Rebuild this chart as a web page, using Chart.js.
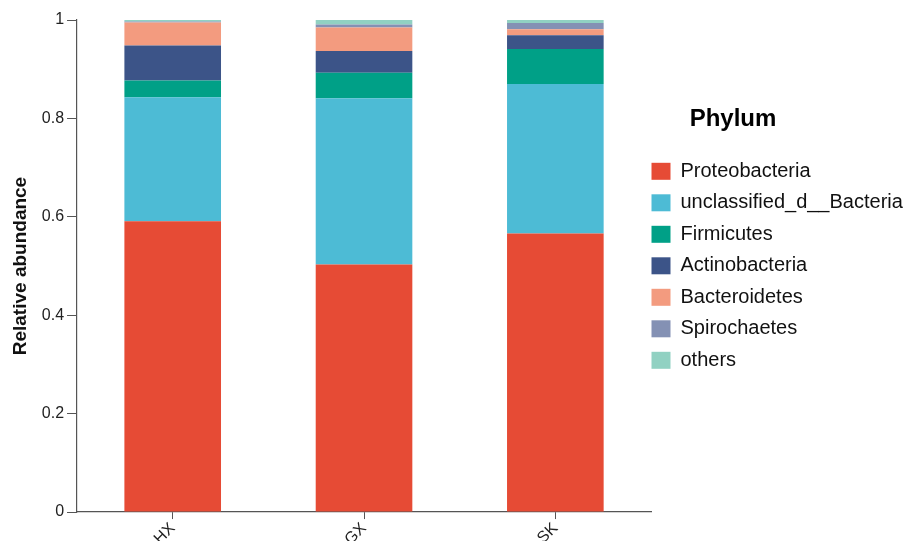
<!DOCTYPE html>
<html>
<head>
<meta charset="utf-8">
<script src="https://cdn.jsdelivr.net/npm/chart.js@4/dist/chart.umd.min.js"></script>
<style>
  html, body { margin: 0; padding: 0; background: #fff; }
  #wrap { width: 907px; height: 541px; position: relative; }
</style>
</head>
<body>
<div id="wrap"><canvas id="chart"></canvas></div>
<script>
'use strict';

// Samples and relative abundance per phylum (fractions, each sample sums to 1)
const samples = ['HX', 'GX', 'SK'];
const phyla = ['Proteobacteria', 'unclassified_d__Bacteria', 'Firmicutes',
    'Actinobacteria', 'Bacteroidetes', 'Spirochaetes', 'others'];
const proteobacteria = [0.591, 0.503, 0.566];
const unclassified = [0.252, 0.338, 0.304];
const firmicutes = [0.034, 0.052, 0.071];
const actinobacteria = [0.071, 0.044, 0.028];
const bacteroidetes = [0.047, 0.048, 0.012];
const spirochaetes = [0.002, 0.006, 0.013];
const others = [0.003, 0.009, 0.006];
const yTicks = [0, 0.2, 0.4, 0.6, 0.8, 1];

const colors = ['#E64B35', '#4DBBD5', '#00A087', '#3C5488', '#F39B7F', '#8491B4', '#91D1C2'];
const series = [proteobacteria, unclassified, firmicutes, actinobacteria,
    bacteroidetes, spirochaetes, others];

const FONT = "'Liberation Sans', Arial, sans-serif";
const AXIS_COLOR = '#555';

// The layout caps a side legend at a quarter of the width, which is too
// narrow for the long labels; widen it and pull it next to the plot.
const legendPlacement = {
    id: 'legendPlacement',
    afterLayout(chart) {
        const lg = chart.legend;
        if (!lg) return;
        lg.left = chart.chartArea.right - 11;
        lg.right = chart.width;
        lg.width = 186; // title is centred over this span
    }
};

const datasets = series.map((values, i) => ({
    label: phyla[i],
    data: values,
    backgroundColor: colors[i],
    borderWidth: 0,
    categoryPercentage: 1,
    barPercentage: 0.505,
}));

new Chart(document.getElementById('chart'), {
    type: 'bar',
    data: { labels: samples, datasets },
    plugins: [legendPlacement],
    options: {
        responsive: true,
        maintainAspectRatio: false,
        animation: false,
        layout: { padding: { top: 20, left: 9, right: 42, bottom: -8 } },
        plugins: {
            tooltip: { enabled: false },
            legend: {
                position: 'right',
                align: 'start',
                title: {
                    display: true,
                    text: 'Phylum',
                    color: '#000',
                    font: { family: FONT, size: 24, weight: 'bold' },
                    padding: { top: 87, bottom: 14 },
                },
                labels: {
                    boxWidth: 19,
                    boxHeight: 17,
                    padding: 11.5,
                    color: '#111',
                    font: { family: FONT, size: 20 },
                },
            },
        },
        scales: {
            x: {
                stacked: true,
                border: { display: true, color: AXIS_COLOR, width: 1.2 },
                grid: {
                    display: true,
                    drawOnChartArea: false,
                    offset: false,
                    color: AXIS_COLOR,
                    tickLength: 7,
                },
                ticks: {
                    color: '#222',
                    font: { family: FONT, size: 16 },
                    minRotation: 45,
                    maxRotation: 45,
                    padding: 0,
                },
            },
            y: {
                stacked: true,
                min: 0,
                max: 1,
                afterBuildTicks(scale) {
                    scale.ticks = yTicks.map(v => ({ value: v }));
                },
                border: { display: true, color: AXIS_COLOR, width: 1.2 },
                grid: {
                    display: true,
                    drawOnChartArea: false,
                    color: AXIS_COLOR,
                    tickLength: 10,
                },
                ticks: {
                    color: '#222',
                    font: { family: FONT, size: 16 },
                    padding: 3,
                    callback: v => String(+v.toFixed(1)),
                },
                title: {
                    display: true,
                    text: 'Relative abundance',
                    color: '#111',
                    font: { family: FONT, size: 19, weight: 'bold' },
                    padding: { top: 0, bottom: 7 },
                },
            },
        },
    },
});
</script>
</body>
</html>
